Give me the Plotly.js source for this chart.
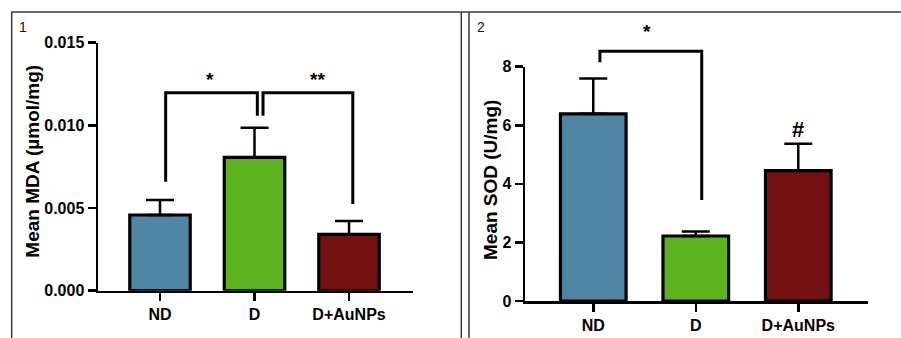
<!DOCTYPE html>
<html>
<head>
<meta charset="utf-8">
<script src="https://cdn.plot.ly/plotly-3.0.1.min.js"></script>
<style>html,body{margin:0;padding:0;background:#fff;}#chart{width:901px;height:338px;}</style>
</head>
<body>
<div id="chart"></div>
<script>
// ---- data ----
const categories = ['ND', 'D', 'D+AuNPs'];
const barColors = ['#4f86a3', '#5eb41f', '#731113'];

const mdaMean = [0.00458, 0.00806, 0.00341];
const mdaSem  = [0.00090, 0.00179, 0.00080];

const sodMean = [6.39, 2.22, 4.45];
const sodSem  = [1.21, 0.15, 0.92];

// significance brackets: [left x, right x, left leg bottom, right leg bottom, top]
const mdaBrackets = [[0.06, 1.03, 0.00659, 0.01058, 0.01197], [1.09, 2.04, 0.01058, 0.00524, 0.01197]];
const mdaMarks = [['*', 0.53, 0.0128], ['**', 1.67, 0.0128]];
const sodBrackets = [[0.065, 1.058, 8.15, 3.45, 8.53]];
const sodMarks = [['*', 0.52, 9.2], ['#', 2.0, 5.85]];

const panelLabels = ['1', '2'];
const yTitles = ['Mean MDA (µmol/mg)', 'Mean SOD (U/mg)'];

// ---- layout helpers ----
const W = 901, H = 338;
const FONT = 'Arial, "Liberation Sans", sans-serif';
const idx = categories.map((c, i) => i);

function axisX(dom, range) {
  return {
    domain: dom, range: range, type: 'linear', tickvals: idx, ticktext: categories,
    showline: true, linecolor: '#000', linewidth: 2.5, ticks: 'outside', ticklen: 8,
    tickwidth: 2.5, tickcolor: '#000', showgrid: false, zeroline: false, fixedrange: true,
    tickfont: {family: FONT, size: 16, weight: 'bold', color: '#000'}
  };
}
function axisY(dom, range, dtick, fmt) {
  return {
    domain: dom, range: range, dtick: dtick, tick0: 0, tickformat: fmt,
    showline: true, linecolor: '#000', linewidth: 2.5, ticks: 'outside', ticklen: 8,
    tickwidth: 2.5, tickcolor: '#000', showgrid: false, zeroline: false, fixedrange: true,
    tickfont: {family: FONT, size: 16, weight: 'bold', color: '#000'}
  };
}

const xa1 = axisX([98 / W, 413 / W], [-0.656, 2.677]);
const ya1 = axisY([1 - 290.7 / H, 1 - 42.7 / H], [0, 0.015], 0.005, '.3f');
const xa2 = axisX([525 / W, 868 / W], [-0.666, 2.68]);
const ya2 = axisY([1 - 301 / H, 1 - 66.7 / H], [0, 8], 2, 'd');

function toPaper(ax, v) {
  return ax.domain[0] + (v - ax.range[0]) / (ax.range[1] - ax.range[0]) * (ax.domain[1] - ax.domain[0]);
}

function barTrace(means, sems, xa, ya) {
  return {
    type: 'bar', x: idx, y: means, xaxis: xa, yaxis: ya, width: 0.64,
    marker: {color: barColors, line: {color: '#000', width: 3.2}},
    error_y: {type: 'data', symmetric: false, array: sems, arrayminus: sems.map(() => 0),
              color: '#000', thickness: 2.5, width: 14},
    hoverinfo: 'skip'
  };
}

const data = [barTrace(mdaMean, mdaSem, 'x', 'y'), barTrace(sodMean, sodSem, 'x2', 'y2')];

const shapes = [];
const annotations = [];

function addBrackets(list, marks, xref, ya) {
  list.forEach(b => {
    const [x0, x1, yl, yr, yt] = b;
    shapes.push({
      type: 'path', xref: xref, yref: 'paper', layer: 'above',
      path: `M ${x0},${toPaper(ya, yl)} L ${x0},${toPaper(ya, yt)} L ${x1},${toPaper(ya, yt)} L ${x1},${toPaper(ya, yr)}`,
      line: {color: '#000', width: 3}
    });
  });
  marks.forEach(m => {
    annotations.push({
      text: m[0], xref: xref, yref: 'paper', x: m[1], y: toPaper(ya, m[2]),
      showarrow: false, xanchor: 'center', yanchor: 'middle',
      font: {family: FONT, size: m[0] === '#' ? 22 : 19, weight: 'bold', color: '#000'}
    });
  });
}
addBrackets(mdaBrackets, mdaMarks, 'x', ya1);
addBrackets(sodBrackets, sodMarks, 'x2', ya2);

// frame lines of the figure panels
const frameColor = '#3a3a3a';
shapes.push({type: 'line', xref: 'paper', yref: 'paper', x0: 11 / W, x1: 1, y0: 1 - 12 / H, y1: 1 - 12 / H, line: {color: frameColor, width: 1.5}});
[11.7, 461.3, 469].forEach(px => {
  shapes.push({type: 'line', xref: 'paper', yref: 'paper', x0: px / W, x1: px / W, y0: 0, y1: 1 - 12 / H, line: {color: frameColor, width: 1.5}});
});

// panel numbers
[[22.7, 26.7], [481, 26.7]].forEach((p, i) => {
  annotations.push({text: panelLabels[i], xref: 'paper', yref: 'paper', x: p[0] / W, y: 1 - p[1] / H,
    showarrow: false, xanchor: 'center', yanchor: 'middle', font: {family: FONT, size: 14, color: '#111'}});
});

// y axis titles
[[33, 161.7], [490, 180]].forEach((p, i) => {
  annotations.push({text: yTitles[i], xref: 'paper', yref: 'paper', x: p[0] / W, y: 1 - p[1] / H,
    showarrow: false, textangle: -90, xanchor: 'center', yanchor: 'middle',
    font: {family: FONT, size: 19, weight: 'bold', color: '#000'}});
});

const layout = {
  width: W, height: H, margin: {l: 0, r: 0, t: 0, b: 0},
  paper_bgcolor: '#fff', plot_bgcolor: 'rgba(0,0,0,0)', showlegend: false,
  xaxis: Object.assign(xa1, {anchor: 'y'}), yaxis: Object.assign(ya1, {anchor: 'x'}),
  xaxis2: Object.assign(xa2, {anchor: 'y2'}), yaxis2: Object.assign(ya2, {anchor: 'x2'}),
  shapes: shapes, annotations: annotations
};

Plotly.newPlot('chart', data, layout, {staticPlot: true, displayModeBar: false});
</script>
</body>
</html>
